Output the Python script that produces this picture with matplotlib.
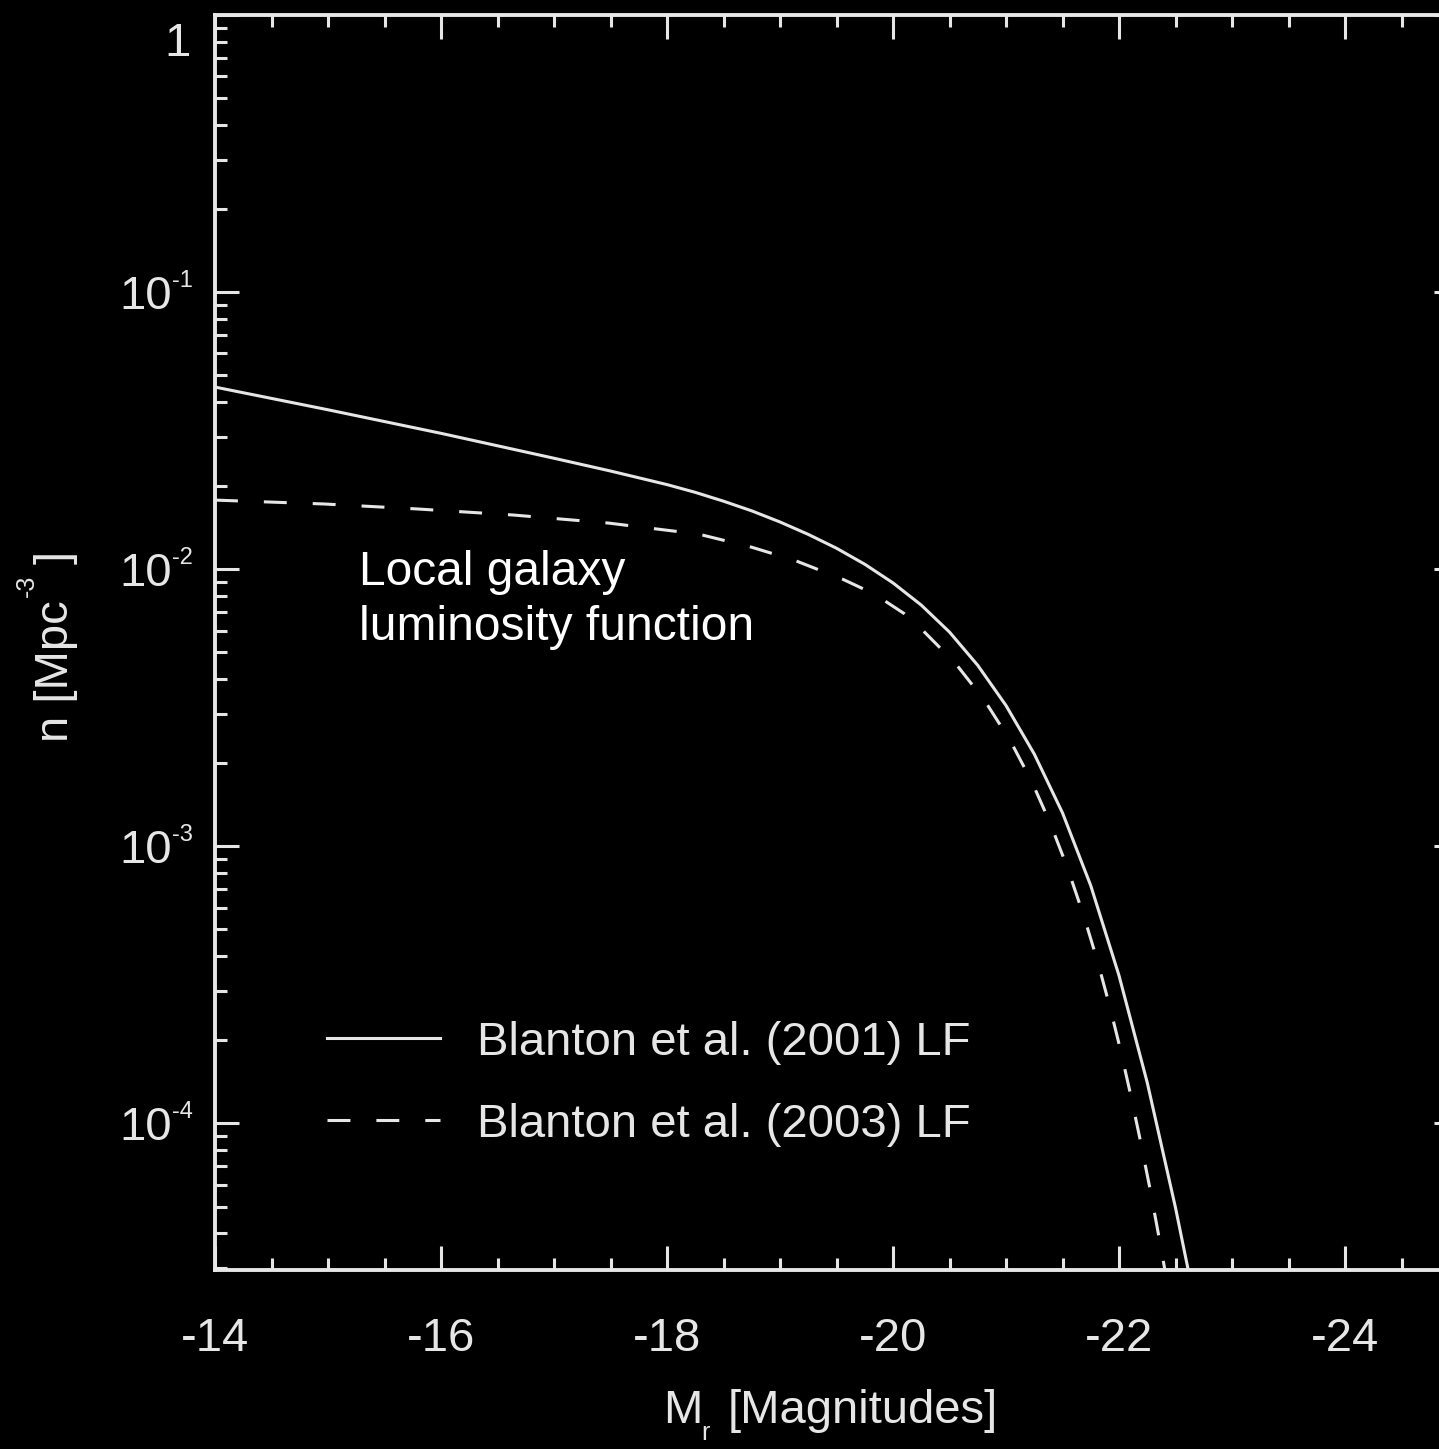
import matplotlib
matplotlib.use('Agg')
import matplotlib.pyplot as plt
import matplotlib.transforms as mtransforms
from matplotlib.ticker import MultipleLocator, NullFormatter, LogLocator

plt.rcParams['font.family'] = ['Liberation Sans', 'DejaVu Sans']
plt.rcParams['axes.unicode_minus'] = False

# Blanton et al. (2001) LF
mag_2001 = [-14.0, -15.0, -16.0, -17.0, -17.5, -18.0, -18.25, -18.5, -18.75, -19.0,
            -19.25, -19.5, -19.75, -20.0, -20.25, -20.5, -20.75, -21.0, -21.25, -21.5,
            -21.75, -22.0, -22.25, -22.5, -22.62]
n_2001 = [0.04539, 0.03758, 0.03090, 0.02512, 0.02259, 0.02018, 0.01892, 0.01758, 0.01622, 0.01479,
          0.01334, 0.01189, 0.01041, 0.008913, 0.007413, 0.005923, 0.004493, 0.003217, 0.002150, 0.001318,
          7.20e-4, 3.41e-4, 1.40e-4, 4.95e-5, 2.85e-5]

# Blanton et al. (2003) LF
mag_2003 = [-14.0, -14.96, -15.79, -16.64, -17.48, -18.28, -18.75, -19.13, -19.55, -19.74,
            -19.93, -20.1, -20.26, -20.55, -20.81, -21.04, -21.23, -21.39, -21.54, -21.69,
            -21.81, -21.92, -22.01, -22.10, -22.19, -22.28, -22.37, -22.41]
n_2003 = [0.01774, 0.01718, 0.01648, 0.01567, 0.01466, 0.01337, 0.01199, 0.01075, 0.009211, 0.008472,
          0.007665, 0.006902, 0.006026, 0.004581, 0.003357, 0.002393, 0.001702, 0.001213, 8.43e-4, 5.57e-4,
          3.84e-4, 2.62e-4, 1.862e-4, 1.282e-4, 8.61e-5, 5.64e-5, 3.57e-5, 2.89e-5]

labels = ['Blanton et al. (2001) LF', 'Blanton et al. (2003) LF']
xticks = [-14, -16, -18, -20, -22, -24]
xticklabels = ['-14', '-16', '-18', '-20', '-22', '-24']
yticks = [1e-4, 1e-3, 1e-2, 1e-1, 1]
yticklabels = ['10', '10', '10', '10', '1']
yexponents = ['-4', '-3', '-2', '-1']

fg = '#e6e6e6'
W, H = 1439, 1449
fig = plt.figure(figsize=(W / 100, H / 100), dpi=100, facecolor='black')
ax = fig.add_axes([215 / W, 179 / H, 1243 / W, 1255 / H], facecolor='black')

ax.plot(mag_2001, n_2001, color=fg, lw=2.2, label=labels[0])
ax.plot(mag_2003, n_2003, color=fg, lw=2.2, ls=(0, (7.5, 8.5)), label=labels[1])

ax.set_yscale('log')
ax.set_xlim(-14, -25)
ax.set_ylim(2.95e-5, 1)

ax.set_xticks(xticks)
ax.set_xticklabels(xticklabels)
ax.xaxis.set_minor_locator(MultipleLocator(0.5))
ax.set_yticks(yticks)
ax.set_yticklabels(yticklabels)
ax.yaxis.set_minor_locator(LogLocator(base=10, subs=range(2, 10)))
ax.yaxis.set_minor_formatter(NullFormatter())

for s in ax.spines.values():
    s.set_color(fg)
    s.set_linewidth(2.8)

ax.tick_params(which='both', direction='in', top=True, right=True, color=fg,
               labelcolor=fg, labelsize=34, width=2.2)
ax.tick_params(which='major', length=17.5)
ax.tick_params(which='minor', length=8.6)
ax.tick_params(axis='x', pad=34)
ax.tick_params(axis='y', pad=31)

# the "1" label sits lower and closer to the axis in the original
lab1 = ax.get_yticklabels()[-1]
lab1.set_transform(lab1.get_transform() +
                   mtransforms.ScaledTranslation(0.19, -0.24, fig.dpi_scale_trans))

# small IDL-style exponents next to the "10" labels
exp_tr = (mtransforms.blended_transform_factory(ax.transAxes, ax.transData) +
          mtransforms.ScaledTranslation(0, 0.05, fig.dpi_scale_trans))
for val, e in zip(yticks[:-1], yexponents):
    ax.text(-43 / 1243, val, e, transform=exp_tr, color=fg, fontsize=17,
            ha='left', va='baseline', clip_on=False)

# x axis title
fig.text(663 / W, 1 - 1423 / H, 'M', color=fg, fontsize=34, ha='left', va='baseline')
fig.text(701 / W, 1 - 1440 / H, 'r', color=fg, fontsize=18, ha='left', va='baseline')
fig.text(728 / W, 1 - 1423 / H, '[Magnitudes]', color=fg, fontsize=34, ha='left', va='baseline')

# y axis title
fig.text(68 / W, 1 - 742 / H, 'n [Mpc', color=fg, fontsize=34, rotation=90,
         rotation_mode='anchor', ha='left', va='baseline')
fig.text(34 / W, 1 - 597 / H, '-3', color=fg, fontsize=18, rotation=90,
         rotation_mode='anchor', ha='left', va='baseline')
fig.text(68 / W, 1 - 564 / H, ']', color=fg, fontsize=34, rotation=90,
         rotation_mode='anchor', ha='left', va='baseline')

# annotation
ax.text(0.1155, 0.5458, 'Local galaxy', transform=ax.transAxes, color='white',
        fontsize=34.5, va='baseline')
ax.text(0.1155, 0.5020, 'luminosity function', transform=ax.transAxes, color='white',
        fontsize=34.5, va='baseline')

ax.legend(loc='upper left', bbox_to_anchor=(0.0901, 0.1986), frameon=False,
          fontsize=34, handlelength=2.4, handletextpad=0.78, labelspacing=0.81,
          borderpad=0, borderaxespad=0, labelcolor=fg)

fig.savefig('out.png', dpi=100, facecolor='black')
